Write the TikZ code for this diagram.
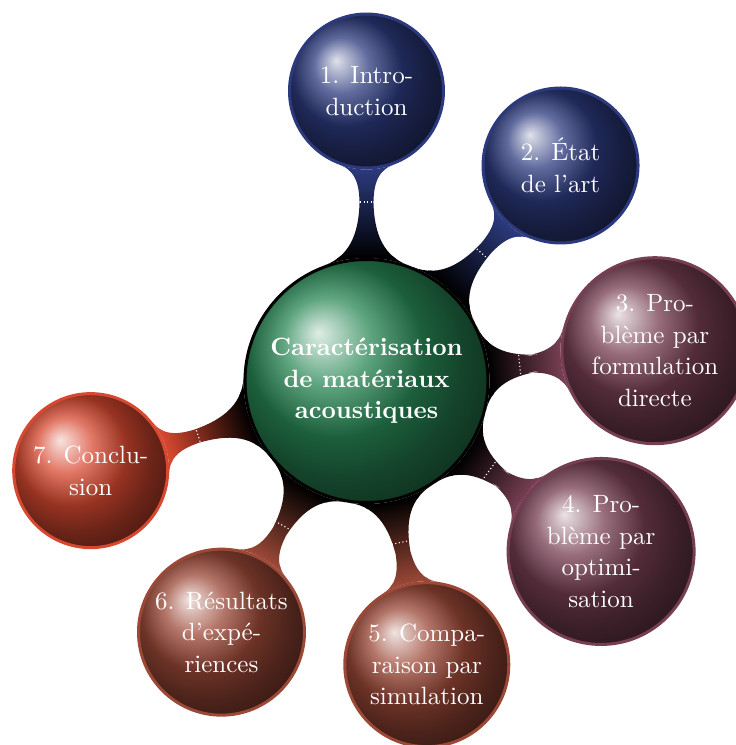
\documentclass[tikz,border=0pt]{standalone}
\usetikzlibrary{mindmap,shadings,calc}
\pgfdeclarelayer{background}
\pgfsetlayers{background,main}
\definecolor{cblue}{RGB}{44,58,125}
\definecolor{cmauve}{RGB}{118,62,82}
\definecolor{cbrown}{RGB}{155,72,55}
\definecolor{cred}{RGB}{215,72,48}
\definecolor{cgreen}{RGB}{40,135,85}
\tikzset{
  bubble/.style={circle, inner sep=0pt, align=center, text=white,
    font=\fontsize{10}{12.6}\selectfont, line width=1.2pt, draw=#1, ball color=#1},
  rootbubble/.style={bubble=cgreen, draw=black, font=\fontsize{10}{12.6}\selectfont\bfseries, minimum size=97.2pt},
  link/.style={circle connection bar switch color=from (black) to (#1)},
  seam/.style={draw=white, line width=0.45pt, densely dotted},
}
\begin{document}
\begin{tikzpicture}
\useasboundingbox (-146.6pt,-145.6pt) rectangle (147.8pt,152.4pt);
\node[rootbubble] (root) at (0,0) {Caractérisation\\de matériaux\\acoustiques};
\node[bubble=cblue, minimum size=61.6pt] (n1) at (90:116pt) {1. Intro-\\duction};
\node[bubble=cblue, minimum size=62pt] (n2) at (48:116pt) {2. État\\de l’art};
\node[bubble=cmauve, minimum size=74.4pt] (n3) at (6:116pt) {3. Pro-\\blème par\\formulation\\directe};
\node[bubble=cmauve, minimum size=74.4pt] (n4) at (-36:116pt) {4. Pro-\\blème par\\optimi-\\sation};
\node[bubble=cbrown, minimum size=65.6pt] (n5) at (-78:116pt) {5. Compa-\\raison par\\simulation};
\node[bubble=cbrown, minimum size=66.4pt] (n6) at (-120:116pt) {6. Résultats\\d’expé-\\riences};
\node[bubble=cred, minimum size=61.6pt] (n7) at (-162:116pt) {7. Conclu-\\sion};
\begin{pgfonlayer}{background}
\begin{scope}[mindmap]
\path (root) to[link=cblue] (n1);
\path (root) to[link=cblue] (n2);
\path (root) to[link=cmauve] (n3);
\path (root) to[link=cmauve] (n4);
\path (root) to[link=cbrown] (n5);
\path (root) to[link=cbrown] (n6);
\path (root) to[link=cred] (n7);
\end{scope}
\foreach \n/\d in {n1/71.6pt, n2/68.8pt, n3/61.6pt, n4/60.8pt, n5/66pt, n6/66.8pt, n7/70.8pt}{
  \coordinate (s) at ($(root)!\d!(\n)$);
  \path[seam] ($(s)!4pt!90:(\n)$) -- ($(s)!4pt!-90:(\n)$);
}
\end{pgfonlayer}
\end{tikzpicture}
\end{document}
